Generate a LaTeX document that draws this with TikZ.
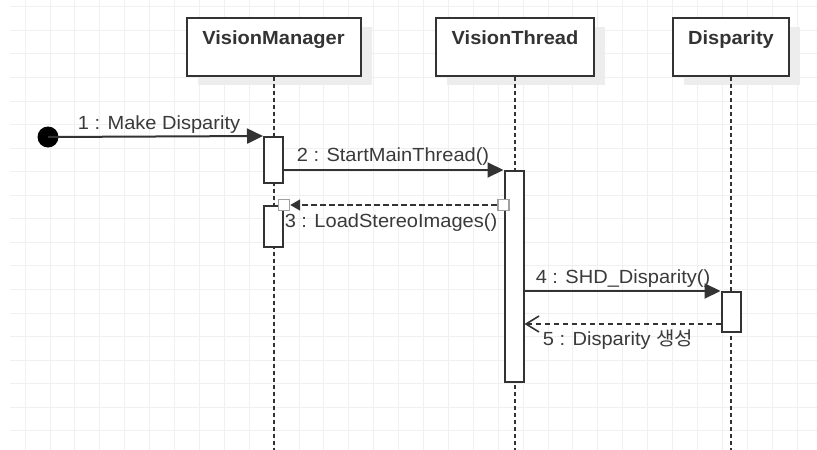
\documentclass[tikz,border=0pt]{standalone}
\usepackage{fontspec}
\setmainfont[FakeStretch=1.055]{Liberation Sans}
\newfontfamily\krfont[FakeStretch=1.055]{Noto Sans CJK KR}
\usetikzlibrary{arrows.meta,shadows}
\definecolor{ink}{HTML}{333333}
\definecolor{txt}{HTML}{3A3A3A}
\definecolor{gridc}{HTML}{F0F0F0}
\definecolor{shadowc}{HTML}{EDEDED}
\definecolor{sqc}{HTML}{A0A0A0}
\tikzset{
  gridline/.style={draw=gridc, line width=0.7pt},
  lifebox/.style={draw=ink, line width=2pt, fill=white, minimum height=58pt, inner sep=0pt,
    general shadow={fill=shadowc, shadow xshift=11pt, shadow yshift=-9pt}},
  titletext/.style={font=\bfseries\fontsize{19}{23}\selectfont, text=ink, inner sep=0pt, anchor=base},
  lifeline/.style={draw=ink, line width=2pt, dash pattern=on 4pt off 3pt},
  act/.style={draw=ink, line width=2pt, fill=white, minimum width=19pt, inner sep=0pt},
  msg/.style={draw=ink, line width=2pt, -{Triangle[length=16pt,width=15pt]}},
  msgsmall/.style={draw=ink, line width=1.6pt, dash pattern=on 6pt off 3pt, -{Triangle[length=10pt,width=11pt]}},
  retmsg/.style={draw=ink, line width=1.6pt, dash pattern=on 5pt off 4pt, -{Straight Barb[length=13pt,width=16pt,line width=1.6pt]}},
  lbl/.style={font=\fontsize{19}{23}\selectfont, text=txt, inner sep=0pt, anchor=base},
  sq/.style={draw=sqc, line width=1.4pt, fill=white, minimum size=11pt, inner sep=0pt},
  startdot/.style={circle, fill=black, minimum size=21pt, inner sep=0pt}
}
\begin{document}
\begin{tikzpicture}[x=1pt,y=-1pt]
\useasboundingbox (0,0) rectangle (817,450);
\fill[white] (0,0) rectangle (817,450);
% grid
\foreach \k in {0,...,31} \draw[gridline] ({25+24.9*\k},0) -- ({25+24.9*\k},450);
\foreach \k in {0,...,18} \draw[gridline] (10,{6.7+23.55*\k}) -- (817,{6.7+23.55*\k});

% lifeline heads
\node[lifebox, minimum width=174pt] (vm) at (273.5,47) {};
\node[lifebox, minimum width=158pt] (vt) at (515,47) {};
\node[lifebox, minimum width=116pt] (dp) at (731,47) {};
\node[titletext] (vmt) at (273.5,44) {VisionManager};
\node[titletext] (vtt) at (515,44) {VisionThread};
\node[titletext] (dpt) at (731,44) {Disparity};

% lifeline ends
\coordinate (vmend) at (273.5,450);
\coordinate (vtend) at (515,450);
\coordinate (dpend) at (731,450);
\draw[lifeline] (vm.south) -- (vmend);
\draw[lifeline] (vt.south) -- (vtend);
\draw[lifeline] (dp.south) -- (dpend);

% activations
\node[act, minimum height=46pt] (a1) at (273.5,160) {};
\node[act, minimum height=41pt] (a2) at (273.5,226.5) {};
\node[act, minimum height=211pt] (a3) at (514,276.5) {};
\node[act, minimum height=40pt] (a4) at (731,312) {};

% start
\node[startdot] (start) at (48,137) {};

% 1
\draw[msg] (start.center) -- (a1.north west);
\node[lbl] (l1) at (159,129) {1 : Make Disparity};
% 2
\draw[msg] (a1.east |- a3.north) -- (a3.north west);
\node[lbl] (l2) at (393,161) {2 : StartMainThread()};
% 3
\node[sq] (s3a) at (a2.north east) {};
\node[sq] (s3b) at (a3.west |- a2.north) {};
\draw[msgsmall] (s3b.west) -- (s3a.east);
\node[lbl] (l3) at (391,227) {3 : LoadStereoImages()};
% 4
\draw[msg] (a3.east |- a4.north) -- (a4.north west);
\node[lbl] (l4) at (623,283) {4 : SHD\_Disparity()};
% 5
\coordinate (r5s) at ([yshift=9pt]a4.south west);
\draw[retmsg] (r5s) -- (a3.east |- r5s);
\node[lbl] (l5) at (618,345) {5 : Disparity {\krfont 생성}};
\end{tikzpicture}
\end{document}
